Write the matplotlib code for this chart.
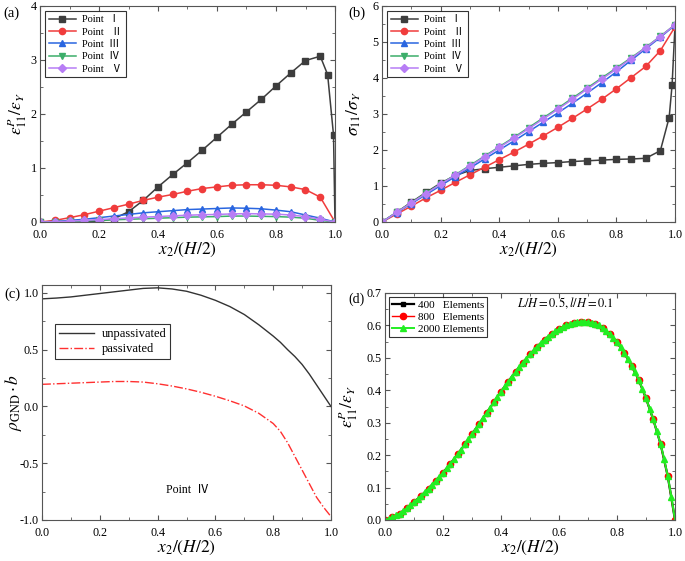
"""Four-panel strain / stress / GND density figure."""
import matplotlib
matplotlib.use('Agg')
import matplotlib.pyplot as plt
from matplotlib.ticker import AutoMinorLocator, MultipleLocator

plt.rcParams['font.family'] = ['Liberation Serif', 'Noto Sans CJK SC']
plt.rcParams['mathtext.fontset'] = 'stix'

# ---- panel (a): plastic strain at points I..V ----
xa = [0.0, 0.05, 0.1, 0.15, 0.2, 0.25, 0.3, 0.35, 0.4, 0.45, 0.5,
      0.55, 0.6, 0.65, 0.7, 0.75, 0.8, 0.85, 0.9, 0.95, 1.0]
xa_I = [0.0, 0.05, 0.1, 0.15, 0.2, 0.25, 0.3, 0.35, 0.4, 0.45, 0.5,
        0.55, 0.6, 0.65, 0.7, 0.75, 0.8, 0.85, 0.9, 0.95, 0.975, 0.995, 1.0]
a_I = [0.0, 0.0, 0.0, 0.0, 0.01, 0.06, 0.19, 0.40, 0.65, 0.88, 1.10,
       1.33, 1.57, 1.81, 2.04, 2.27, 2.52, 2.76, 2.99, 3.07, 2.73, 1.61, 0.0]
a_II = [0.0, 0.03, 0.08, 0.135, 0.20, 0.265, 0.33, 0.40, 0.46, 0.51, 0.57,
        0.62, 0.65, 0.68, 0.69, 0.69, 0.68, 0.65, 0.60, 0.46, 0.0]
a_III = [0.0, 0.01, 0.03, 0.05, 0.08, 0.11, 0.14, 0.17, 0.19, 0.21, 0.23,
         0.24, 0.25, 0.26, 0.255, 0.245, 0.22, 0.19, 0.13, 0.07, 0.0]
a_IV = [0.0, 0.005, 0.01, 0.02, 0.03, 0.04, 0.05, 0.06, 0.07, 0.08, 0.09,
        0.095, 0.10, 0.11, 0.11, 0.105, 0.10, 0.09, 0.07, 0.03, 0.0]
a_V = [0.0, 0.005, 0.015, 0.03, 0.045, 0.06, 0.075, 0.09, 0.10, 0.115, 0.125,
       0.135, 0.14, 0.15, 0.155, 0.15, 0.145, 0.13, 0.10, 0.05, 0.0]

# ---- panel (b): stress at points I..V ----
xb_I = [0.0, 0.05, 0.1, 0.15, 0.2, 0.25, 0.3, 0.35, 0.4, 0.45, 0.5,
        0.55, 0.6, 0.65, 0.7, 0.75, 0.8, 0.85, 0.9, 0.95, 0.98, 0.99, 1.0]
b_I = [0.0, 0.27, 0.55, 0.82, 1.08, 1.29, 1.43, 1.48, 1.52, 1.56, 1.60,
       1.63, 1.65, 1.68, 1.70, 1.72, 1.74, 1.75, 1.77, 1.98, 2.90, 3.80, 5.45]
b_II = [0.0, 0.22, 0.44, 0.67, 0.88, 1.10, 1.31, 1.52, 1.73, 1.94, 2.16,
        2.39, 2.63, 2.88, 3.14, 3.41, 3.70, 4.01, 4.32, 4.76, 5.42]
b_III = [0.0, 0.26, 0.51, 0.76, 1.01, 1.26, 1.50, 1.75, 2.00, 2.25, 2.51,
         2.77, 3.03, 3.30, 3.58, 3.87, 4.17, 4.49, 4.81, 5.13, 5.47]
b_IV = [0.0, 0.27, 0.54, 0.80, 1.06, 1.31, 1.57, 1.83, 2.09, 2.35, 2.62,
        2.89, 3.16, 3.44, 3.72, 4.00, 4.28, 4.56, 4.85, 5.16, 5.48]
b_V = [0.0, 0.265, 0.53, 0.79, 1.05, 1.30, 1.55, 1.81, 2.07, 2.33, 2.59,
       2.86, 3.13, 3.41, 3.69, 3.97, 4.25, 4.54, 4.84, 5.15, 5.48]

point_labels = ['Point  Ⅰ', 'Point   Ⅱ', 'Point  Ⅲ', 'Point  Ⅳ', 'Point   Ⅴ']

# ---- panel (c): GND density at point IV ----
xc = [0.0, 0.05, 0.1, 0.15, 0.2, 0.25, 0.3, 0.35, 0.4, 0.45, 0.5, 0.55,
      0.6, 0.65, 0.7, 0.75, 0.8, 0.825, 0.85, 0.875, 0.9, 0.925, 0.95,
      0.975, 1.0]
c_unpass = [0.948, 0.955, 0.965, 0.98, 0.995, 1.01, 1.025, 1.04, 1.045,
            1.035, 1.015, 0.98, 0.935, 0.88, 0.81, 0.72, 0.62, 0.565,
            0.50, 0.44, 0.37, 0.285, 0.19, 0.095, 0.0]
c_pass = [0.195, 0.20, 0.205, 0.21, 0.215, 0.22, 0.22, 0.215, 0.20, 0.18,
          0.155, 0.125, 0.09, 0.05, 0.005, -0.06, -0.15, -0.22, -0.32,
          -0.44, -0.56, -0.68, -0.80, -0.89, -0.97]

# ---- panel (d): mesh convergence ----
xd = [0.0, 0.025, 0.05, 0.075, 0.1, 0.125, 0.15, 0.175, 0.2, 0.225, 0.25,
      0.275, 0.3, 0.325, 0.35, 0.375, 0.4, 0.425, 0.45, 0.475, 0.5, 0.525,
      0.55, 0.575, 0.6, 0.625, 0.65, 0.675, 0.7, 0.725, 0.75, 0.775, 0.8,
      0.825, 0.85, 0.875, 0.9, 0.925, 0.95, 0.975, 1.0]
d_400 = [0.0, 0.008, 0.020, 0.036, 0.055, 0.075, 0.097, 0.121, 0.146,
         0.173, 0.202, 0.233, 0.265, 0.297, 0.330, 0.363, 0.396, 0.427,
         0.457, 0.485, 0.511, 0.535, 0.556, 0.574, 0.589, 0.600, 0.608,
         0.612, 0.611, 0.605, 0.593, 0.574, 0.548, 0.515, 0.476, 0.432,
         0.375, 0.31, 0.235, 0.135, 0.0]
d_800 = [0.0, 0.008, 0.020, 0.036, 0.055, 0.075, 0.097, 0.121, 0.146,
         0.173, 0.202, 0.233, 0.265, 0.297, 0.330, 0.363, 0.396, 0.427,
         0.457, 0.485, 0.511, 0.535, 0.556, 0.574, 0.589, 0.600, 0.608,
         0.612, 0.611, 0.605, 0.593, 0.574, 0.548, 0.515, 0.476, 0.432,
         0.375, 0.31, 0.235, 0.135, 0.0]
xd2 = [0.0, 0.0125, 0.025, 0.0375, 0.05, 0.0625, 0.075, 0.0875, 0.1,
       0.1125, 0.125, 0.1375, 0.15, 0.1625, 0.175, 0.1875, 0.2, 0.2125,
       0.225, 0.2375, 0.25, 0.2625, 0.275, 0.2875, 0.3, 0.3125, 0.325,
       0.3375, 0.35, 0.3625, 0.375, 0.3875, 0.4, 0.4125, 0.425, 0.4375,
       0.45, 0.4625, 0.475, 0.4875, 0.5, 0.5125, 0.525, 0.5375, 0.55,
       0.5625, 0.575, 0.5875, 0.6, 0.6125, 0.625, 0.6375, 0.65, 0.6625,
       0.675, 0.6875, 0.7, 0.7125, 0.725, 0.7375, 0.75, 0.7625, 0.775,
       0.7875, 0.8, 0.8125, 0.825, 0.8375, 0.85, 0.8625, 0.875, 0.8875,
       0.9, 0.9125, 0.925, 0.9375, 0.95, 0.9625, 0.975, 0.9875, 1.0]
d_2000 = [0.0, 0.003, 0.008, 0.014, 0.020, 0.028, 0.036, 0.045, 0.055,
          0.065, 0.075, 0.086, 0.097, 0.109, 0.121, 0.133, 0.146, 0.159,
          0.173, 0.187, 0.202, 0.217, 0.233, 0.249, 0.265, 0.281, 0.297,
          0.313, 0.330, 0.346, 0.363, 0.380, 0.396, 0.412, 0.427, 0.442,
          0.457, 0.471, 0.485, 0.498, 0.511, 0.523, 0.535, 0.546, 0.556,
          0.565, 0.574, 0.582, 0.589, 0.595, 0.600, 0.604, 0.608, 0.610,
          0.612, 0.612, 0.611, 0.608, 0.605, 0.600, 0.593, 0.584, 0.574,
          0.562, 0.548, 0.532, 0.515, 0.496, 0.476, 0.455, 0.432, 0.405,
          0.375, 0.343, 0.31, 0.273, 0.235, 0.188, 0.135, 0.072, 0.0]

FS_TICK = 8.7
FS_LAB = 12.5
SPINE = '#555555'


def style(ax):
    for s in ax.spines.values():
        s.set_color(SPINE)
        s.set_linewidth(0.8)
    ax.tick_params(which='both', direction='in', top=True, right=True,
                   labelsize=FS_TICK, colors=SPINE, labelcolor='black')
    ax.tick_params(axis='y', pad=2.5)
    ax.tick_params(axis='x', pad=5)
    ax.tick_params(which='major', length=3.5)
    ax.tick_params(which='minor', length=2)
    ax.xaxis.set_minor_locator(AutoMinorLocator(2))
    ax.yaxis.set_minor_locator(AutoMinorLocator(2))
    ax.set_xlim(0, 1)
    ax.xaxis.set_major_locator(MultipleLocator(0.2))
    ax.xaxis.set_major_formatter(plt.FuncFormatter(lambda v, p: f'{v:.1f}'))
    ax.set_xlabel(r'$x_2/(H/2)$', fontsize=FS_LAB, labelpad=0)


fig = plt.figure(figsize=(6.85, 5.61), dpi=100)
W, H = 685, 561


def px_axes(l, t, r, b):
    return fig.add_axes([l / W, 1 - b / H, (r - l) / W, (b - t) / H])


colors = ['#3d3d3d', '#f03c3c', '#2a66e0', '#3cae6a', '#b77df5']
markers = ['s', 'o', '^', 'v', 'D']
msizes = [4, 4.5, 4.5, 4.5, 3.8]

# (a)
ax = px_axes(40, 6, 335, 222)
style(ax)
series_a = [(xa_I, a_I), (xa, a_II), (xa, a_III), (xa, a_IV), (xa, a_V)]
for (xs, ys), c, m, ms, lab in zip(series_a, colors, markers, msizes, point_labels):
    ax.plot(xs, ys, color=c, marker=m, ms=ms, lw=1.1, label=lab)
ax.set_ylim(0, 4)
ax.yaxis.set_major_locator(MultipleLocator(1))
ax.set_ylabel(r'$\varepsilon_{11}^{P}/\varepsilon_Y$', fontsize=FS_LAB)
ax.yaxis.set_label_coords(-11 / 295, 0.5)
leg = ax.legend(loc='upper left', fontsize=7.5, fancybox=False, edgecolor='black',
                borderaxespad=0.5, handlelength=2.6, labelspacing=0.3,
                handletextpad=0.6, borderpad=0.35)
leg.get_frame().set_linewidth(0.8)
fig.text(3 / W, 1 - 13 / H, '(a)', fontsize=10.5, va='center')

# (b)
ax = px_axes(382, 6, 675, 222)
style(ax)
series_b = [(xb_I, b_I), (xa, b_II), (xa, b_III), (xa, b_IV), (xa, b_V)]
for (xs, ys), c, m, ms, lab in zip(series_b, colors, markers, msizes, point_labels):
    ax.plot(xs, ys, color=c, marker=m, ms=ms, lw=1.1, label=lab)
ax.set_ylim(0, 6)
ax.yaxis.set_major_locator(MultipleLocator(1))
ax.set_ylabel(r'$\sigma_{11}/\sigma_Y$', fontsize=FS_LAB)
ax.yaxis.set_label_coords(-19 / 293, 0.5)
leg = ax.legend(loc='upper left', fontsize=7.5, fancybox=False, edgecolor='black',
                borderaxespad=0.5, handlelength=2.6, labelspacing=0.3,
                handletextpad=0.6, borderpad=0.35)
leg.get_frame().set_linewidth(0.8)
fig.text(348 / W, 1 - 13 / H, '(b)', fontsize=10.5, va='center')

# (c)
ax = px_axes(42, 285, 331, 520)
style(ax)
ax.plot(xc, c_unpass, color='#333333', lw=1.0, label='unpassivated')
ax.plot(xc, c_pass, color='#ff3030', lw=1.0, ls='-.', label='passivated')
ax.set_ylim(-1.0, 1.07)
ax.yaxis.set_major_locator(MultipleLocator(0.5))
ax.yaxis.set_major_formatter(plt.FuncFormatter(lambda v, p: f'{v:.1f}'))
ax.set_ylabel(r'$\rho_{\mathrm{GND}}\cdot b$', fontsize=FS_LAB)
ax.yaxis.set_label_coords(-18 / 289, 0.5)
leg = ax.legend(loc='upper left', bbox_to_anchor=(0.025, 0.86), fontsize=9,
                fancybox=False, edgecolor='black', handlelength=2.8,
                labelspacing=0.25, borderpad=0.3, handletextpad=0.6)
leg.get_frame().set_linewidth(0.8)
ax.text(0.43, -0.76, 'Point  Ⅳ', fontsize=8.5)
fig.text(4 / W, 1 - 294 / H, '(c)', fontsize=10.5, va='center')

# (d)
ax = px_axes(385, 293, 675, 520)
style(ax)
ax.plot(xd, d_400, color='black', marker='s', ms=3, lw=1.6, label='400   Elements')
ax.plot(xd, d_800, color='red', marker='o', ms=4.5, lw=1.0, label='800   Elements')
ax.plot(xd2, d_2000, color='#22ee22', marker='^', ms=5, lw=1.4,
        label='2000 Elements')
ax.set_ylim(0, 0.7)
ax.yaxis.set_major_locator(MultipleLocator(0.1))
ax.yaxis.set_major_formatter(plt.FuncFormatter(lambda v, p: f'{v:.1f}'))
ax.set_ylabel(r'$\varepsilon_{11}^{P}/\varepsilon_Y$', fontsize=FS_LAB)
ax.yaxis.set_label_coords(-25 / 290, 0.5)
leg = ax.legend(loc='upper left', fontsize=8, fancybox=False, edgecolor='black',
                borderaxespad=0.35, handlelength=2.0, labelspacing=0.2,
                handletextpad=0.3, borderpad=0.3)
leg.get_frame().set_linewidth(0.8)
ax.text(0.455, 0.655, r'$L/H=0.5,l/H=0.1$', fontsize=9)
fig.text(348 / W, 1 - 299 / H, '(d)', fontsize=10, va='center')

fig.savefig('out.png', dpi=100, facecolor='white')
